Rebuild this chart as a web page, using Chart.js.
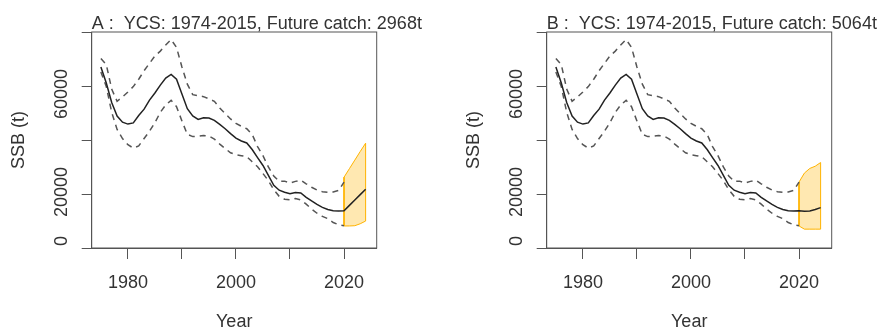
<!DOCTYPE html>
<html>
<head>
<meta charset="utf-8">
<script src="https://cdn.jsdelivr.net/npm/chart.js@4.4.1/dist/chart.umd.min.js"></script>
<style>
  html, body { margin:0; padding:0; background:#fff; }
  #wrap { position:relative; width:877px; height:331px; overflow:hidden; }
  canvas { position:absolute; top:0; }
  #panelA { left:0; }
  #panelB { left:455px; }
</style>
</head>
<body>
<div id="wrap">
  <canvas id="panelA" width="455" height="331"></canvas>
  <canvas id="panelB" width="422" height="331"></canvas>
</div>
<script>
// SSB trajectories (same history, different future catch)

const years = [1975,1976,1977,1978,1979,1980,1981,1982,1983,1984,1985,1986,1987,1988,1989,
  1990,1991,1992,1993,1994,1995,1996,1997,1998,1999,2000,2001,2002,2003,2004,2005,2006,2007,
  2008,2009,2010,2011,2012,2013,2014,2015,2016,2017,2018,2019,2020];

const ssbMedian = [71000,64500,56500,51000,48500,47700,48200,51200,53800,57500,60400,63600,66500,68000,66000,
  60000,54000,51000,49600,50300,50200,49200,47600,45800,43800,42000,40800,40000,37300,34000,30800,26800,22700,
  20700,19900,19300,19800,19600,17800,16300,14900,13700,12800,12300,12200,12300];

const ssbUpper = [74500,72000,62000,57000,58800,60800,63000,66000,69500,72500,75500,77500,80000,82200,79000,
  71000,64000,59700,59300,58900,58000,57000,54300,52000,49800,48000,46800,45800,43500,38500,34800,30200,26500,
  24300,24400,23600,24300,24800,23300,21900,20800,20100,19900,20000,20600,24000];

const ssbLower = [69000,63000,52500,45500,41800,39300,37900,38800,41800,44800,48300,52500,55500,57400,54800,
  49000,43500,42600,42700,43000,42800,41600,39500,37700,36000,35200,34800,34400,32300,30300,27500,24600,20900,
  18200,17000,16800,17300,16700,15000,13000,11300,10000,9100,7500,6600,6200];

const projYears = [2020,2021,2022,2023,2024];
const projMedianA = [12300,14500,16700,18900,21100];
const projUpperA = [26000,29500,33000,36500,39900];
const projLowerA = [6100,6100,6200,7000,8100];
const projMedianB = [12300,12100,12200,12800,13600];
const projUpperB = [24000,27700,29600,30500,32000];
const projLowerB = [6100,4800,4800,4800,4800];

const xLabelled = [1980, 2000, 2020];
const yLabelled = [0, 20000, 60000];
const titleA = 'A :  YCS: 1974-2015, Future catch: 2968t';
const titleB = 'B :  YCS: 1974-2015, Future catch: 5064t';

const FAMILY = '"Liberation Sans", Arial, sans-serif';
const INK = '#333';
const AXIS = '#555';

const pts = (xs, ys) => xs.map((x, i) => ({x, y: ys[i]}));

// box round the plot region, main title, and R-style vertical y labels
const frame = {
  id: 'frame',
  afterDraw(chart, args, opts){
    const {ctx, chartArea: a} = chart;
    const ys = chart.scales.y;
    ctx.save();
    ctx.strokeStyle = AXIS; ctx.lineWidth = 1;
    ctx.strokeRect(a.left, a.top, a.right - a.left, a.bottom - a.top);
    ctx.fillStyle = INK;
    ctx.font = '18px ' + FAMILY;
    ctx.textBaseline = 'alphabetic';
    ctx.textAlign = 'left';
    ctx.fillText(opts.text, a.left, 29);
    ctx.textAlign = 'center';
    ctx.textBaseline = 'middle';
    yLabelled.forEach(v => {
      ctx.save();
      ctx.translate(a.left - 29.5, ys.getPixelForValue(v));
      ctx.rotate(-Math.PI / 2);
      ctx.fillText(String(v), 0, 0);
      ctx.restore();
    });
    ctx.restore();
  }
};

function makeChart(id, title, pMed, pUp, pLow){
  const median = pts(years, ssbMedian).concat(pts(projYears.slice(1), pMed.slice(1)));
  // projection band as closed polygon: lower forward, upper back
  const band = pts(projYears, pLow)
    .concat(pts(projYears.slice().reverse(), pUp.slice().reverse()))
    .concat([{x: projYears[0], y: pLow[0]}]);
  const W = document.getElementById(id).width;
  return new Chart(document.getElementById(id), {
    type: 'line',
    data: {
      datasets: [
        {data: median, borderColor: '#222', borderWidth: 1.5, pointRadius: 0, tension: 0, fill: false},
        {data: pts(years, ssbUpper), borderColor: '#555', borderWidth: 1.5, borderDash: [6,5], pointRadius: 0, fill: false},
        {data: pts(years, ssbLower), borderColor: '#555', borderWidth: 1.5, borderDash: [6,5], pointRadius: 0, fill: false},
        {data: band, borderColor: '#FFB300', borderWidth: 1, backgroundColor: 'rgba(255,200,70,0.42)', pointRadius: 0, fill: 'shape'}
      ]
    },
    options: {
      responsive: false, animation: false, devicePixelRatio: 1,
      layout: {padding: {left: 0, right: W - 376.7, top: 32, bottom: 0}},
      plugins: {legend: {display: false}, tooltip: {enabled: false}, frame: {text: title}},
      scales: {
        x: {
          type: 'linear', min: 1973.3, max: 2026.05,
          afterFit: s => { s.height = 83; },
          ticks: {stepSize: 10, includeBounds: false, autoSkip: false, maxRotation: 0, padding: 13,
            color: INK, font: {size: 18, family: FAMILY},
            callback: v => xLabelled.includes(v) ? String(v) : ''},
          grid: {drawOnChartArea: false, drawTicks: true, tickLength: 11, color: AXIS},
          border: {display: true, color: AXIS},
          title: {display: true, text: 'Year', color: INK, font: {size: 18, family: FAMILY, lineHeight: 1}, padding: {top: 0, bottom: 0}}
        },
        y: {
          min: -2900, max: 85300,
          afterFit: s => { s.width = 91.7; },
          ticks: {stepSize: 20000, includeBounds: false, autoSkip: false, display: false},
          grid: {drawOnChartArea: false, drawTicks: true, tickLength: 10, color: AXIS},
          border: {display: true, color: AXIS},
          title: {display: true, text: 'SSB (t)', color: INK, font: {size: 18, family: FAMILY, lineHeight: 1}, padding: {top: 10, bottom: 0}}
        }
      }
    },
    plugins: [frame]
  });
}

makeChart('panelA', titleA, projMedianA, projUpperA, projLowerA);
makeChart('panelB', titleB, projMedianB, projUpperB, projLowerB);
</script>
</body>
</html>
